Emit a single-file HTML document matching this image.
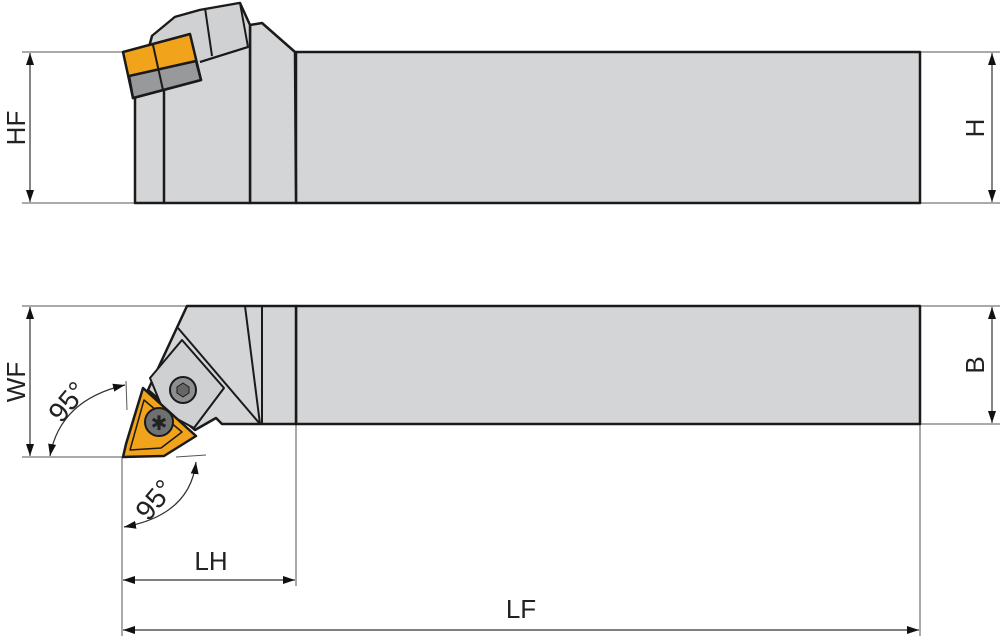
<!DOCTYPE html>
<html><head><meta charset="utf-8"><style>
html,body{margin:0;padding:0;background:#fff;width:1000px;height:641px;overflow:hidden}
svg{display:block}
text{font-family:"Liberation Sans",sans-serif;fill:#222}
</style></head><body>
<svg width="1000" height="641" viewBox="0 0 1000 641">
<defs>
<marker id="a" viewBox="0 0 12 8" refX="12" refY="4" markerWidth="12" markerHeight="8" orient="auto-start-reverse" markerUnits="userSpaceOnUse"><path d="M0,0L12,4L0,8z" fill="#111"/></marker>
</defs>
<g stroke="#555" stroke-width="1" fill="none">
<line x1="22" y1="52" x2="125" y2="52"/><line x1="22" y1="203" x2="135" y2="203"/>
<line x1="920" y1="52" x2="1000" y2="52"/><line x1="920" y1="203" x2="1000" y2="203"/>
<line x1="22" y1="306" x2="187" y2="306"/><line x1="22" y1="457" x2="122" y2="457"/>
<line x1="920" y1="306" x2="1000" y2="306"/><line x1="920" y1="424" x2="1000" y2="424"/>
<line x1="122" y1="457" x2="122" y2="636"/><line x1="296" y1="424" x2="296" y2="586"/><line x1="920" y1="424" x2="920" y2="636"/>
<line x1="176" y1="457" x2="206" y2="455"/><line x1="126" y1="381" x2="127" y2="410"/>
</g>
<g stroke="#333" stroke-width="1.2" fill="none" marker-start="url(#a)" marker-end="url(#a)">
<line x1="30" y1="53" x2="30" y2="202"/>
<line x1="992" y1="53" x2="992" y2="202"/>
<line x1="30" y1="307" x2="30" y2="456"/>
<line x1="992" y1="307" x2="992" y2="423"/>
<line x1="123" y1="580" x2="295" y2="580"/>
<line x1="123" y1="630" x2="919" y2="630"/>
<path d="M50,456 Q60,400 125,385"/>
<path d="M124,527 Q190,515 196,462"/>
</g>
<!-- top view -->
<g stroke="#1a1a1a" stroke-width="2.5" stroke-linejoin="round">
<rect x="296" y="52" width="624" height="151" fill="#d4d5d7"/>
<path d="M250,25 L262,23 L295,52 L296,203 L250,203Z" fill="#d4d5d7"/>
<path d="M135,98 L152,36 L175,17 L200,10 L240,3 L250,25 L250,203 L135,203Z" fill="#d4d5d7"/>
<path d="M152,36 L175,17 L200,10 L240,3 L248,47 L200,62" fill="#d0d1d3" stroke-width="2"/>
<line x1="200" y1="62" x2="248" y2="47" stroke-width="2"/>
<line x1="205" y1="8" x2="212" y2="56" stroke-width="2"/>
<line x1="164" y1="88" x2="164" y2="203"/>
<polygon points="123,52 190,34 201,80 133,98" fill="#f2a31c"/>
<polygon points="129,76 196,61 201,80 133,98" fill="#98999b"/>
<line x1="153" y1="45" x2="163" y2="90" stroke-width="2"/>
</g>
<!-- bottom view -->
<g stroke="#1a1a1a" stroke-width="2.5" stroke-linejoin="round">
<rect x="296" y="306" width="624" height="118" fill="#d4d5d7"/>
<path d="M187,306 L296,306 L296,424 L222,424 L216,418 L195,430 L148,390Z" fill="#d4d5d7"/>
<line x1="245" y1="306" x2="260" y2="424" stroke-width="2"/>
<line x1="262" y1="306" x2="262" y2="424" stroke-width="2"/>
<line x1="178" y1="328" x2="260" y2="424" stroke-width="2"/>
<polygon points="150,378 182,340 224,388 194,428 164,412" fill="#cfd0d2" stroke-width="2"/>
<circle cx="183" cy="390" r="13" fill="#8d8e90" stroke-width="2"/>
<polygon points="183,383 189,387 189,393 183,397 177,393 177,387" fill="#666" stroke-width="1"/>
<polygon points="143,388 185,426 196,436 164,456 123,457 126,444" fill="#f2a31c"/>
<polygon points="144,400 182,432 161,448 130,450" fill="none" stroke-width="1.5"/>
<circle cx="159" cy="422" r="14" fill="#6f7072" stroke-width="2"/>
<text x="159" y="430" font-size="20" text-anchor="middle" style="fill:#222" stroke="none">✱</text>
</g>
<!-- labels -->
<text transform="translate(25,128) rotate(-90)" font-size="26" text-anchor="middle">HF</text>
<text transform="translate(984,128) rotate(-90)" font-size="26" text-anchor="middle">H</text>
<text transform="translate(25,382) rotate(-90)" font-size="26" text-anchor="middle">WF</text>
<text transform="translate(984,365) rotate(-90)" font-size="26" text-anchor="middle">B</text>
<text x="211" y="570" font-size="26" text-anchor="middle">LH</text>
<text x="521" y="618" font-size="26" text-anchor="middle">LF</text>
<text transform="translate(75,408) rotate(-50)" font-size="28" text-anchor="middle">95°</text>
<text transform="translate(162,506) rotate(-50)" font-size="28" text-anchor="middle">95°</text>
</svg>
</body></html>
